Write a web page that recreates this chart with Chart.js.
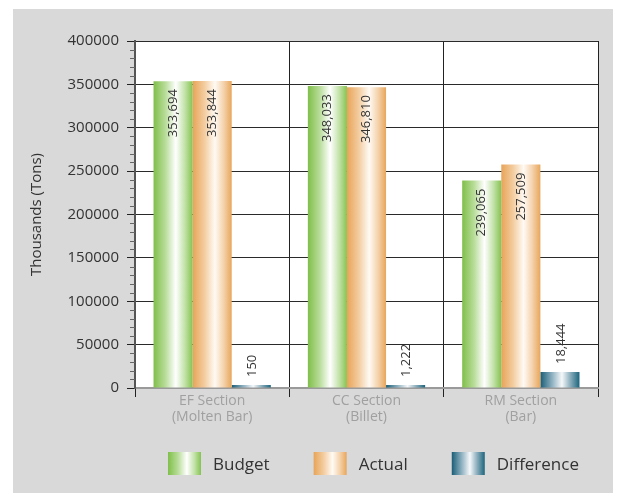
<!DOCTYPE html>
<html>
<head>
<meta charset="utf-8">
<script src="https://cdn.jsdelivr.net/npm/chart.js@4.4.0/dist/chart.umd.min.js"></script>
<style>
  html, body { margin: 0; padding: 0; background: #fff; }
  #wrap { width: 618px; height: 493px; }
</style>
</head>
<body>
<div id="wrap"><canvas id="chart1"></canvas></div>
<script>
// data

const categories = [
    ['EF Section', '(Molten Bar)'],
    ['CC Section', '(Billet)'],
    ['RM Section', '(Bar)']
];
const budget = [353694, 348033, 239065];
const actual = [353844, 346810, 257509];
const difference = [150, 1222, 18444];
const yTicks = [0, 50000, 100000, 150000, 200000, 250000, 300000, 350000, 400000];

const FONT = "'Open Sans', sans-serif";
const CAT_PCT = 0.76;

// gradient stops for each series (left edge -> light centre -> right edge)
const stops = [
    [[0, '#80bf4a'], [0.3, '#b7dc98'], [0.57, '#ffffff'], [0.8, '#c3e2a9'], [1, '#86c352']],
    [[0, '#e8a458'], [0.3, '#f3cc9f'], [0.57, '#fffaf4'], [0.8, '#f4d1aa'], [1, '#e8a65b']],
    [[0, '#1a5e78'], [0.3, '#8fb1c0'], [0.55, '#f5f8fa'], [0.78, '#85a9b8'], [1, '#1c657e']]
];

function makeGrad(ctx, x0, x1, idx) {
    const g = ctx.createLinearGradient(x0, 0, x1, 0);
    stops[idx].forEach(s => g.addColorStop(s[0], s[1]));
    return g;
}

function barFill(c) {
    const chart = c.chart;
    const x = chart.scales.x;
    if (!chart.chartArea || !x) return '#999';
    const n = chart.data.datasets.length;
    const catW = x.width / chart.data.labels.length;
    const barW = catW * CAT_PCT / n;
    const left = x.getPixelForValue(c.dataIndex) - catW * CAT_PCT / 2 + c.datasetIndex * barW;
    return makeGrad(chart.ctx, left, left + barW, c.datasetIndex);
}

// grey panel behind the chart, white plot area
const background = {
    id: 'background',
    beforeDraw(chart) {
        const {ctx, chartArea: a} = chart;
        ctx.save();
        ctx.fillStyle = '#ffffff';
        ctx.fillRect(0, 0, chart.width, chart.height);
        ctx.fillStyle = '#d9d9d9';
        ctx.fillRect(13, 9, 600, chart.height - 9);
        ctx.fillStyle = '#ffffff';
        ctx.fillRect(a.left, a.top, a.right - a.left, a.bottom - a.top);
        ctx.restore();
    }
};

// small ticks every 10000 on the value axis
const minorTicks = {
    id: 'minorTicks',
    afterDraw(chart) {
        const y = chart.scales.y;
        const ctx = chart.ctx;
        ctx.save();
        ctx.strokeStyle = '#666';
        ctx.lineWidth = 1;
        for (let v = 10000; v < 400000; v += 10000) {
            if (v % 50000 === 0) continue;
            const py = Math.round(y.getPixelForValue(v)) + 0.5;
            ctx.beginPath();
            ctx.moveTo(y.right - 5, py);
            ctx.lineTo(y.right, py);
            ctx.stroke();
        }
        ctx.restore();
    }
};

// rotated value labels
const barLabels = {
    id: 'barLabels',
    afterDatasetsDraw(chart) {
        const ctx = chart.ctx;
        ctx.save();
        ctx.font = '13px ' + FONT;
        ctx.fillStyle = '#333';
        ctx.textBaseline = 'middle';
        chart.data.datasets.forEach((ds, di) => {
            chart.getDatasetMeta(di).data.forEach((bar, i) => {
                const txt = ds.data[i].toLocaleString('en-US');
                const w = ctx.measureText(txt).width;
                const h = bar.base - bar.y;
                ctx.save();
                if (h > w + 16) {
                    ctx.translate(bar.x, bar.y + 8);
                    ctx.rotate(-Math.PI / 2);
                    ctx.textAlign = 'right';
                } else {
                    ctx.translate(bar.x + 1, bar.y - 8);
                    ctx.rotate(-Math.PI / 2);
                    ctx.textAlign = 'left';
                }
                ctx.fillText(txt, 0, 0);
                ctx.restore();
            });
        });
        ctx.restore();
    }
};

// legend with gradient swatches
const gradLegend = {
    id: 'gradLegend',
    afterDraw(chart) {
        const ctx = chart.ctx;
        ctx.save();
        ctx.font = '17px ' + FONT;
        ctx.textBaseline = 'middle';
        let x = 168;
        const top = 452, bw = 33, bh = 23;
        chart.data.datasets.forEach((ds, di) => {
            ctx.fillStyle = makeGrad(ctx, x, x + bw, di);
            ctx.fillRect(x, top, bw, bh);
            ctx.fillStyle = '#333';
            ctx.textAlign = 'left';
            ctx.fillText(ds.label, x + bw + 12, top + bh / 2 + 2);
            x += bw + 12 + ctx.measureText(ds.label).width + 44;
        });
        ctx.restore();
    }
};

let chart1 = new Chart(document.getElementById('chart1'), {
    type: 'bar',
    data: {
        labels: categories,
        datasets: [
            { label: 'Budget', data: budget, backgroundColor: barFill },
            { label: 'Actual', data: actual, backgroundColor: barFill },
            { label: 'Difference', data: difference, backgroundColor: barFill, minBarLength: 3 }
        ]
    },
    options: {
        responsive: true,
        maintainAspectRatio: false,
        animation: false,
        layout: { padding: { top: 41, right: 20, bottom: 60, left: 0 } },
        datasets: { bar: { categoryPercentage: CAT_PCT, barPercentage: 1 } },
        plugins: {
            legend: { display: false },
            tooltip: { enabled: false }
        },
        scales: {
            x: {
                offset: true,
                grid: { offset: true, color: '#222', tickColor: '#222', tickLength: 9 },
                border: { color: '#9a9a9a', width: 2 },
                ticks: {
                    color: '#a0a0a0',
                    padding: -4,
                    font: { family: FONT, size: 14, lineHeight: 1.15 }
                },
                afterFit(s) { s.height = 45; }
            },
            y: {
                min: 0,
                max: 400000,
                afterBuildTicks(s) { s.ticks = yTicks.map(v => ({ value: v })); },
                grid: {
                    color: c => c.tick && c.tick.value === 0 ? 'rgba(0,0,0,0)' : '#2a2a2a',
                    tickColor: '#222',
                    tickLength: 8
                },
                border: { color: '#555', width: 2 },
                ticks: {
                    color: '#333',
                    padding: 8,
                    font: { family: FONT, size: 15 },
                    callback: v => String(v)
                },
                title: {
                    display: true,
                    text: 'Thousands (Tons)',
                    color: '#333',
                    font: { family: FONT, size: 15 },
                    padding: { top: 28, bottom: 0 }
                },
                afterFit(s) { s.width = 135; }
            }
        }
    },
    plugins: [background, minorTicks, barLabels, gradLegend]
});
</script>
</body>
</html>
